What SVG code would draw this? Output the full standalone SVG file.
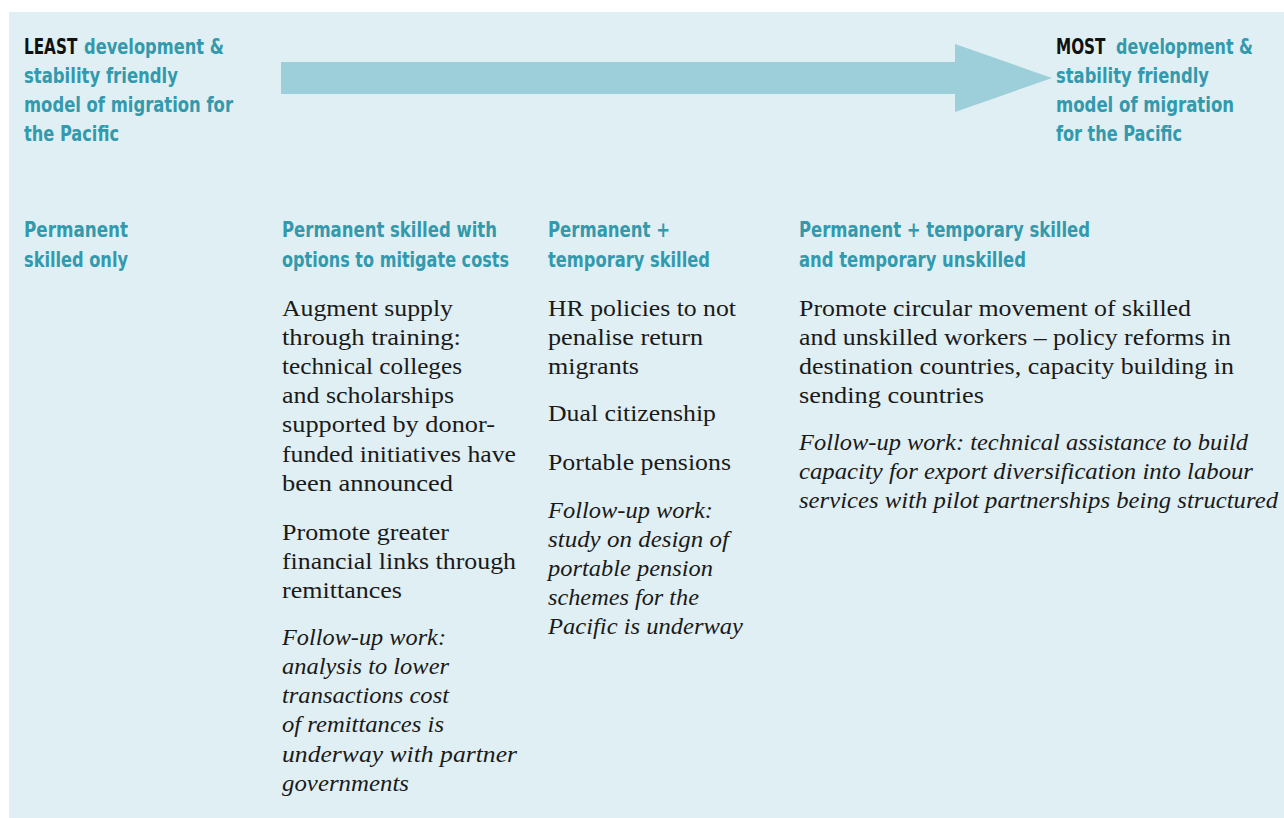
<svg xmlns="http://www.w3.org/2000/svg" width="1284" height="818" viewBox="0 0 1284 818">
  <style>
    .hd { font-family: 'Liberation Sans Narrow', 'DejaVu Sans Condensed', 'Liberation Sans', sans-serif; font-stretch: condensed; font-weight: bold; font-size: 22px; fill: #3399ad; }
    .hd.k { fill: #111111; }
    .bd { font-family: 'Liberation Serif', 'DejaVu Serif', serif; font-size: 23px; fill: #1a1a1a; }
    .it { font-style: italic; }
  </style>
  <rect x="0" y="0" width="1284" height="818" fill="#ffffff"/>
  <rect id="panel" x="9" y="12" width="1275" height="806" fill="#e0eff3"/>

  <!-- progression arrow -->
  <g id="connectors">
    <polygon points="281,62 955,62 955,44 1052,78 955,112 955,94 281,94" fill="#9ccfd9"/>
  </g>

  <g id="least">
    <text class="hd k" transform="translate(24,54) scale(0.77,1)" x="0" y="0">LEAST</text>
    <text class="hd" x="84" y="54" textLength="140" lengthAdjust="spacingAndGlyphs">development &amp;</text>
    <text class="hd" x="24" y="83" textLength="154" lengthAdjust="spacingAndGlyphs">stability friendly</text>
    <text class="hd" x="24" y="112" textLength="209" lengthAdjust="spacingAndGlyphs">model of migration for</text>
    <text class="hd" x="24" y="141" textLength="95" lengthAdjust="spacingAndGlyphs">the Pacific</text>
  </g>

  <g id="most">
    <text class="hd k" transform="translate(1056,54) scale(0.77,1)" x="0" y="0">MOST</text>
    <text class="hd" x="1116" y="54" textLength="137" lengthAdjust="spacingAndGlyphs">development &amp;</text>
    <text class="hd" x="1056" y="83" textLength="153" lengthAdjust="spacingAndGlyphs">stability friendly</text>
    <text class="hd" x="1056" y="112" textLength="178" lengthAdjust="spacingAndGlyphs">model of migration</text>
    <text class="hd" x="1056" y="141" textLength="126" lengthAdjust="spacingAndGlyphs">for the Pacific</text>
  </g>

  <g id="col-permanent-skilled">
    <text class="hd" x="24" y="237" textLength="104" lengthAdjust="spacingAndGlyphs">Permanent</text>
    <text class="hd" x="24" y="267" textLength="104" lengthAdjust="spacingAndGlyphs">skilled only</text>
  </g>

  <g id="col-mitigate-costs">
    <text class="hd" x="282" y="237" textLength="215" lengthAdjust="spacingAndGlyphs">Permanent skilled with</text>
    <text class="hd" x="282" y="267" textLength="227" lengthAdjust="spacingAndGlyphs">options to mitigate costs</text>
    <text class="bd" x="282" y="316" textLength="171" lengthAdjust="spacingAndGlyphs">Augment supply</text>
    <text class="bd" x="282" y="345" textLength="179" lengthAdjust="spacingAndGlyphs">through training:</text>
    <text class="bd" x="282" y="374" textLength="180" lengthAdjust="spacingAndGlyphs">technical colleges</text>
    <text class="bd" x="282" y="403" textLength="172" lengthAdjust="spacingAndGlyphs">and scholarships</text>
    <text class="bd" x="282" y="432" textLength="213" lengthAdjust="spacingAndGlyphs">supported by donor-</text>
    <text class="bd" x="282" y="462" textLength="234" lengthAdjust="spacingAndGlyphs">funded initiatives have</text>
    <text class="bd" x="282" y="491" textLength="171" lengthAdjust="spacingAndGlyphs">been announced</text>
    <text class="bd" x="282" y="540" textLength="167" lengthAdjust="spacingAndGlyphs">Promote greater</text>
    <text class="bd" x="282" y="569" textLength="234" lengthAdjust="spacingAndGlyphs">financial links through</text>
    <text class="bd" x="282" y="598" textLength="120" lengthAdjust="spacingAndGlyphs">remittances</text>
    <text class="bd it" x="282" y="645" textLength="164" lengthAdjust="spacingAndGlyphs">Follow-up work:</text>
    <text class="bd it" x="282" y="674" textLength="167" lengthAdjust="spacingAndGlyphs">analysis to lower</text>
    <text class="bd it" x="282" y="703" textLength="167" lengthAdjust="spacingAndGlyphs">transactions cost</text>
    <text class="bd it" x="282" y="732" textLength="162" lengthAdjust="spacingAndGlyphs">of remittances is</text>
    <text class="bd it" x="282" y="762" textLength="235" lengthAdjust="spacingAndGlyphs">underway with partner</text>
    <text class="bd it" x="282" y="791" textLength="127" lengthAdjust="spacingAndGlyphs">governments</text>
  </g>

  <g id="col-temporary-skilled">
    <text class="hd" x="548" y="237" textLength="122" lengthAdjust="spacingAndGlyphs">Permanent +</text>
    <text class="hd" x="548" y="267" textLength="162" lengthAdjust="spacingAndGlyphs">temporary skilled</text>
    <text class="bd" x="548" y="316" textLength="188" lengthAdjust="spacingAndGlyphs">HR policies to not</text>
    <text class="bd" x="548" y="345" textLength="155" lengthAdjust="spacingAndGlyphs">penalise return</text>
    <text class="bd" x="548" y="374" textLength="91" lengthAdjust="spacingAndGlyphs">migrants</text>
    <text class="bd" x="548" y="421" textLength="168" lengthAdjust="spacingAndGlyphs">Dual citizenship</text>
    <text class="bd" x="548" y="470" textLength="183" lengthAdjust="spacingAndGlyphs">Portable pensions</text>
    <text class="bd it" x="548" y="518" textLength="165" lengthAdjust="spacingAndGlyphs">Follow-up work:</text>
    <text class="bd it" x="548" y="547" textLength="181" lengthAdjust="spacingAndGlyphs">study on design of</text>
    <text class="bd it" x="548" y="576" textLength="165" lengthAdjust="spacingAndGlyphs">portable pension</text>
    <text class="bd it" x="548" y="605" textLength="151" lengthAdjust="spacingAndGlyphs">schemes for the</text>
    <text class="bd it" x="548" y="634" textLength="195" lengthAdjust="spacingAndGlyphs">Pacific is underway</text>
  </g>

  <g id="col-temporary-unskilled">
    <text class="hd" x="799" y="237" textLength="291" lengthAdjust="spacingAndGlyphs">Permanent + temporary skilled</text>
    <text class="hd" x="799" y="267" textLength="227" lengthAdjust="spacingAndGlyphs">and temporary unskilled</text>
    <text class="bd" x="799" y="316" textLength="392" lengthAdjust="spacingAndGlyphs">Promote circular movement of skilled</text>
    <text class="bd" x="799" y="345" textLength="432" lengthAdjust="spacingAndGlyphs">and unskilled workers – policy reforms in</text>
    <text class="bd" x="799" y="374" textLength="435" lengthAdjust="spacingAndGlyphs">destination countries, capacity building in</text>
    <text class="bd" x="799" y="403" textLength="185" lengthAdjust="spacingAndGlyphs">sending countries</text>
    <text class="bd it" x="799" y="450" textLength="449" lengthAdjust="spacingAndGlyphs">Follow-up work: technical assistance to build</text>
    <text class="bd it" x="799" y="479" textLength="454" lengthAdjust="spacingAndGlyphs">capacity for export diversification into labour</text>
    <text class="bd it" x="799" y="508" textLength="479" lengthAdjust="spacingAndGlyphs">services with pilot partnerships being structured</text>
  </g>
</svg>
